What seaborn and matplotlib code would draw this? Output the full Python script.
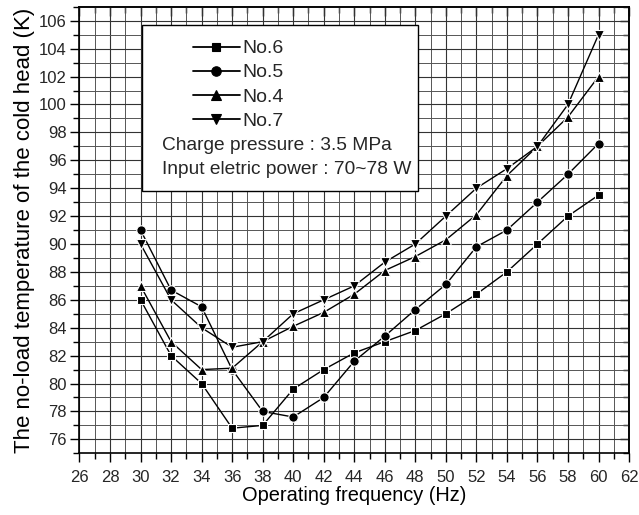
import numpy as np
import pandas as pd
import matplotlib
matplotlib.use("Agg")
import matplotlib.pyplot as plt
from matplotlib.ticker import MultipleLocator
from matplotlib.patches import Rectangle
import seaborn as sns

sns.set_theme(style="white")
plt.rcParams['font.family'] = ['Liberation Sans', 'DejaVu Sans']

# Data
freq = [30, 32, 34, 36, 38, 40, 42, 44, 46, 48, 50, 52, 54, 56, 58, 60]
no6 = [86, 82, 80, 76.8, 77, 79.6, 81, 82.2, 83, 83.8, 85, 86.4, 88, 90, 92, 93.5]
no5 = [91, 86.7, 85.5, 81, 78, 77.6, 79, 81.6, 83.4, 85.3, 87.1, 89.8, 91, 93, 95, 97.2]
no4 = [87, 83, 81, 81.1, 83, 84.1, 85.1, 86.4, 88.1, 89.1, 90.3, 92.1, 94.9, 97, 99.1, 102]
no7 = [90, 86, 84, 82.6, 83, 85, 86, 87, 88.7, 90, 92, 94, 95.4, 97, 100, 105]
series_names = ["No.6", "No.5", "No.4", "No.7"]
series_markers = ["s", "o", "^", "v"]
series_sizes = [6.2, 6.8, 7.4, 7.4]

fig = plt.figure(figsize=(6.39, 5.15), dpi=100)
ax = fig.add_axes([0.1244, 0.1198, 0.86, 0.867])

for name, vals, mk, ms in zip(series_names, [no6, no5, no4, no7], series_markers, series_sizes):
    sns.lineplot(x=freq, y=vals, ax=ax, color="black", marker=mk, markersize=ms,
                 markeredgecolor="white", markeredgewidth=0.8, linewidth=1.0, label=name)

ax.set_xlim(26, 62)
ax.set_ylim(75, 107)
ax.xaxis.set_major_locator(MultipleLocator(2))
ax.xaxis.set_minor_locator(MultipleLocator(1))
ax.yaxis.set_major_locator(MultipleLocator(2))
ax.yaxis.set_minor_locator(MultipleLocator(1))
ax.set_yticks(np.arange(76, 107, 2))

ax.set_axisbelow(True)
ax.grid(which="major", color="#333333", linewidth=0.8)
ax.grid(which="minor", color="#555555", linewidth=0.7)

ax.tick_params(which="major", direction="out", length=6.5, width=1.0, color="black",
               labelsize=12, bottom=True, left=True)
ax.tick_params(which="minor", direction="out", length=4.3, width=1.0, color="black",
               bottom=True, left=True)
ax.tick_params(axis="x", which="major", pad=5.5)
ax.tick_params(axis="y", which="major", pad=2.5)
for sp in ax.spines.values():
    sp.set_color("black")
    sp.set_linewidth(1.2)

# inward ticks on top and right
top = ax.secondary_xaxis("top")
top.xaxis.set_major_locator(MultipleLocator(2))
top.xaxis.set_minor_locator(MultipleLocator(1))
top.tick_params(which="both", direction="in", labeltop=False, color="black", width=1.0)
top.tick_params(which="major", length=6.5)
top.tick_params(which="minor", length=4.3)
right = ax.secondary_yaxis("right")
right.yaxis.set_major_locator(MultipleLocator(2))
right.yaxis.set_minor_locator(MultipleLocator(1))
right.tick_params(which="both", direction="in", labelright=False, color="black", width=1.0)
right.tick_params(which="major", length=6.5)
right.tick_params(which="minor", length=4.3)

ax.set_xlabel("Operating frequency (Hz)", fontsize=14.4, color="black", labelpad=1)
ax.set_ylabel("The no-load temperature of the cold head (K)", fontsize=16,
              color="black", labelpad=3)

# legend box
ax.add_patch(Rectangle((0.113, 0.588), 0.5036, 0.371, transform=ax.transAxes,
                       facecolor="white", edgecolor="black", linewidth=1.0, zorder=3))
leg = ax.legend(loc="upper left", bbox_to_anchor=(0.206, 0.926), frameon=False, fontsize=14,
                handlelength=2.44, handletextpad=0.14, labelspacing=0.33, borderpad=0,
                borderaxespad=0)
leg.set_zorder(4)
for h in leg.legend_handles:
    h.set_markeredgecolor("black")
    h.set_linewidth(1.3)
ax.text(0.1496, 0.690, "Charge pressure : 3.5 MPa", transform=ax.transAxes,
        fontsize=13.8, va="center", ha="left", zorder=5)
ax.text(0.1496, 0.6366, "Input eletric power : 70~78 W", transform=ax.transAxes,
        fontsize=13.8, va="center", ha="left", zorder=5)

fig.savefig("out.png", dpi=100)
